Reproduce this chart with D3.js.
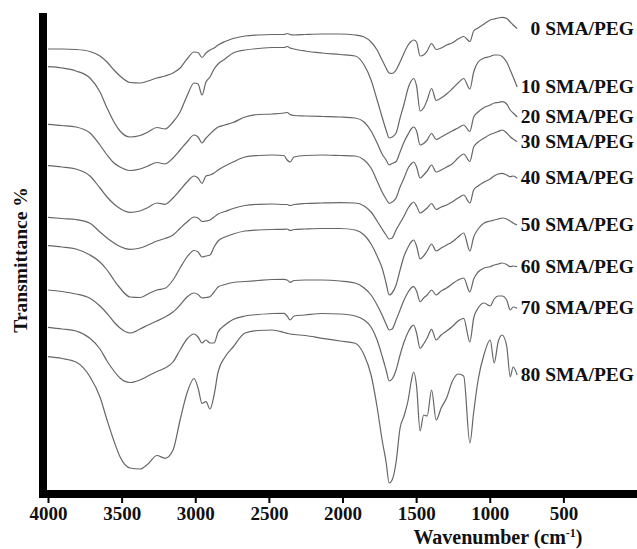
<!DOCTYPE html>
<html>
<head>
<meta charset="utf-8">
<script src="https://cdn.jsdelivr.net/npm/d3@7/dist/d3.min.js"></script>
<style>
  html, body { margin: 0; padding: 0; background: #fff; }
  svg { display: block; }
  text { font-family: "Liberation Serif", "Times New Roman", serif; font-weight: bold; fill: #111; }
</style>
</head>
<body>
<svg id="chart" width="637" height="549"></svg>
<script>
// Wavenumber grid (cm^-1), shared by all spectra
const wavenumbers = [4000,3905,3810,3715,3647,3599,3552,3511,3443,3375,3321,3260,3205,3151,3103,3056,3008,2981,2954,2927,2900,2872,2845,2798,2743,2662,2573,2478,2397,2376,2356,2329,2254,2139,2016,1914,1853,1806,1765,1731,1704,1683,1663,1636,1609,1582,1554,1534,1517,1497,1473,1449,1425,1395,1364,1330,1293,1256,1215,1177,1135,1109,1079,1038,997,970,943,916,885,861,841,814];

// Series labels
const labels = ["0 SMA/PEG","10 SMA/PEG","20 SMA/PEG","30 SMA/PEG","40 SMA/PEG","50 SMA/PEG","60 SMA/PEG","70 SMA/PEG","80 SMA/PEG"];

// Transmittance (stacked, arbitrary units)
const sma0  = [441,441,440.5,438.5,434,428,420,414,407.5,407,409,412,414,417,422,431,438,437.5,432.5,437,440,442,445,448.5,451.5,454,455,455.5,455.5,456.5,455.5,455,455.5,456,456,455,453,448,440,430,422,417,416.5,420,428,437,445,448.5,450,448,434,435,439,446.5,440.5,442,445,447,451,453.5,448.5,459,462,466,470,471,472,472.7,471.5,468,465,461.5];
const sma10 = [423.3,422,419,412,398,382,368,359,353,354.5,358,362.5,361,368,378,394,407,406,395,408,413,421,426,431,437,440,441.5,442.5,442.5,443.5,442,441,439,437,435.5,434,425,410,390,373,360,352,353,357,372,386,402,409,411.5,404,379,382,390,401.5,389.5,392,396,401,407,411.5,401,418,428,432,433.5,435,435,433.5,428,420,413,403];
const sma20 = [365.7,364.5,363,357,345,335,327,323,319.5,321,324,327.5,326,332,340,348,355,353,347,352,356,360,363,365,367.5,373,375.5,376,377,377.5,375.5,374.5,374,373.5,373,372,368,359,347,336,330,325,326.5,328.5,338,348,356,361,363,359,345,346.5,350,356.5,350.5,353,356,359,362,365,358.5,373,378,382.5,385,387,387.5,388.3,386,380,377,373];
const sma30 = [324.3,323,321,314,302,293,286,281.5,277.7,279,282.5,287,285.7,292,300,308,314,312,306.7,314,315,317,320,324,328,333,334.5,335,334.5,330,328,333,334.5,335,334.5,334,330,322,309,298,291,286.7,288,292,303,312,322,326,328,323,312,315,319,325,318,320,323,326,332,336,328.5,343,348,352,355.5,357,358.5,360,357,353.3,351,348.3];
const sma40 = [272.7,271.5,270.5,266.7,258,252,247,243.5,240.7,242,245,249,251.5,255,261.7,268,273,272,268.5,269,270,273,276,278.5,281.5,284.5,285.7,286,285.5,285.5,284.5,285.5,286.5,287,287.3,287,284,278,269,261,255,251,252,260,267,274,282,286,288,284,277,279,282,286.5,280.5,283,285,288,292,295,287,300,304,308,311,314,316,316.7,315,313.3,314,311.7];
const sma50 = [244.3,243,241,235,228,220,210,202,193,192.5,196,200,201.7,210,222,233,239.5,238,233,234,235,243,249,253,256,259,260,260.5,260.7,261,259.5,260.5,261,261.5,261.5,260,255,246,234,222,207,195,197,205,220,234,243,248,250,244,231,234,239,246,239,242,245,248,253,257,239,253,261,267,269,270,271,272,271,269,267,265];
const sma60 = [200,198.5,196,191.7,184,176.5,168,162,157,161,165,169,173,178,185,193,197,195.5,192,192.5,193.3,198,203,205.5,207.5,208.5,209.5,210.5,210.7,210,207.7,209.5,210,210,209,207,202,195,185,175,166,160,161,170,180,190,198,202,203.3,199,188.3,192,195,200,195,199,202,206,210,212,198,211,218,222,223.3,225,226,227,225.5,223.3,224,223.3];
const sma70 = [162.7,161,159,151.7,141,129,119,112,107.5,110,114,118.5,122,128,140,151,156,153,147,150,147,147,158,165,170.5,174,175.5,176.5,176.7,174,170,174,175,176.5,176,174,170,163,150,134,120,109,111,120,135,148,158,163,165,157,141.7,146,152,160.7,150,155,159,163.3,169,171.7,148,172,182,187,184,191,194,194,190,180,183,181.7];
const sma80 = [133.3,131.5,128,113.3,93,70,49,33.3,22,21,26,34.5,31.7,40,70,97,111.5,102,86.7,88.3,81,95,118,133,143,157,159.5,160,157.5,156.7,156,155.5,154.5,151.7,149,146.7,135,115,83,50,28,7,10,28,62,74,90,108,118,104,59,75,74,100,70,82,92,108,116,114,47,78,110,136,150,127,148,155,144,113.3,123,115];

const tickValues = [4000,3500,3000,2500,2000,1500,1000,500];

const seriesValues = [sma0, sma10, sma20, sma30, sma40, sma50, sma60, sma70, sma80];

const svg = d3.select("#chart");

const x = d3.scaleLinear().domain([4000, 0]).range([48, 637]);
const y = d3.scaleLinear().domain([0, 480]).range([490, 10]);

const line = d3.line()
  .x(d => x(d[0]))
  .y(d => y(d[1]))
  .curve(d3.curveMonotoneX);

const gLines = svg.append("g");
seriesValues.forEach((vals, i) => {
  const pts = wavenumbers.map((w, j) => [w, vals[j]]);
  gLines.append("path")
    .datum(pts)
    .attr("fill", "none")
    .attr("stroke", "#666")
    .attr("stroke-width", 1.2)
    .attr("stroke-linejoin", "round")
    .attr("d", line);
  const last = pts[pts.length - 1];
  svg.append("text")
    .attr("x", 634)
    .attr("y", y(last[1]) + 6)
    .attr("text-anchor", "end")
    .attr("font-size", "19.5px")
    .text(labels[i]);
});

// Axes
const xAxis = d3.axisBottom(x)
  .tickValues(tickValues)
  .tickFormat(d3.format("d"))
  .tickSize(13)
  .tickSizeOuter(0);

const gx = svg.append("g").attr("transform", "translate(0,490)").call(xAxis);
gx.select(".domain").remove();
gx.selectAll(".tick line").attr("stroke", "#000").attr("stroke-width", 2);
gx.selectAll(".tick text")
  .attr("y", 30)
  .attr("dy", "0")
  .attr("font-size", "19px")
  .attr("font-family", "Liberation Serif, serif")
  .attr("font-weight", "bold")
  .attr("fill", "#111");

// thick frame bars
svg.append("rect").attr("x", 39).attr("y", 13).attr("width", 8).attr("height", 485).attr("fill", "#000");
svg.append("rect").attr("x", 39).attr("y", 490).attr("width", 598).attr("height", 8).attr("fill", "#000");

// Axis titles
const xt = svg.append("text")
  .attr("x", 498)
  .attr("y", 544)
  .attr("text-anchor", "middle")
  .attr("font-size", "20px");
xt.append("tspan").text("Wavenumber (cm");
xt.append("tspan").attr("font-size", "12px").attr("dy", "-7").text("-1");
xt.append("tspan").attr("dy", "7").text(")");

svg.append("text")
  .attr("transform", "translate(27,260) rotate(-90)")
  .attr("text-anchor", "middle")
  .attr("font-size", "19.5px")
  .text("Transmittance %");
</script>
</body>
</html>
